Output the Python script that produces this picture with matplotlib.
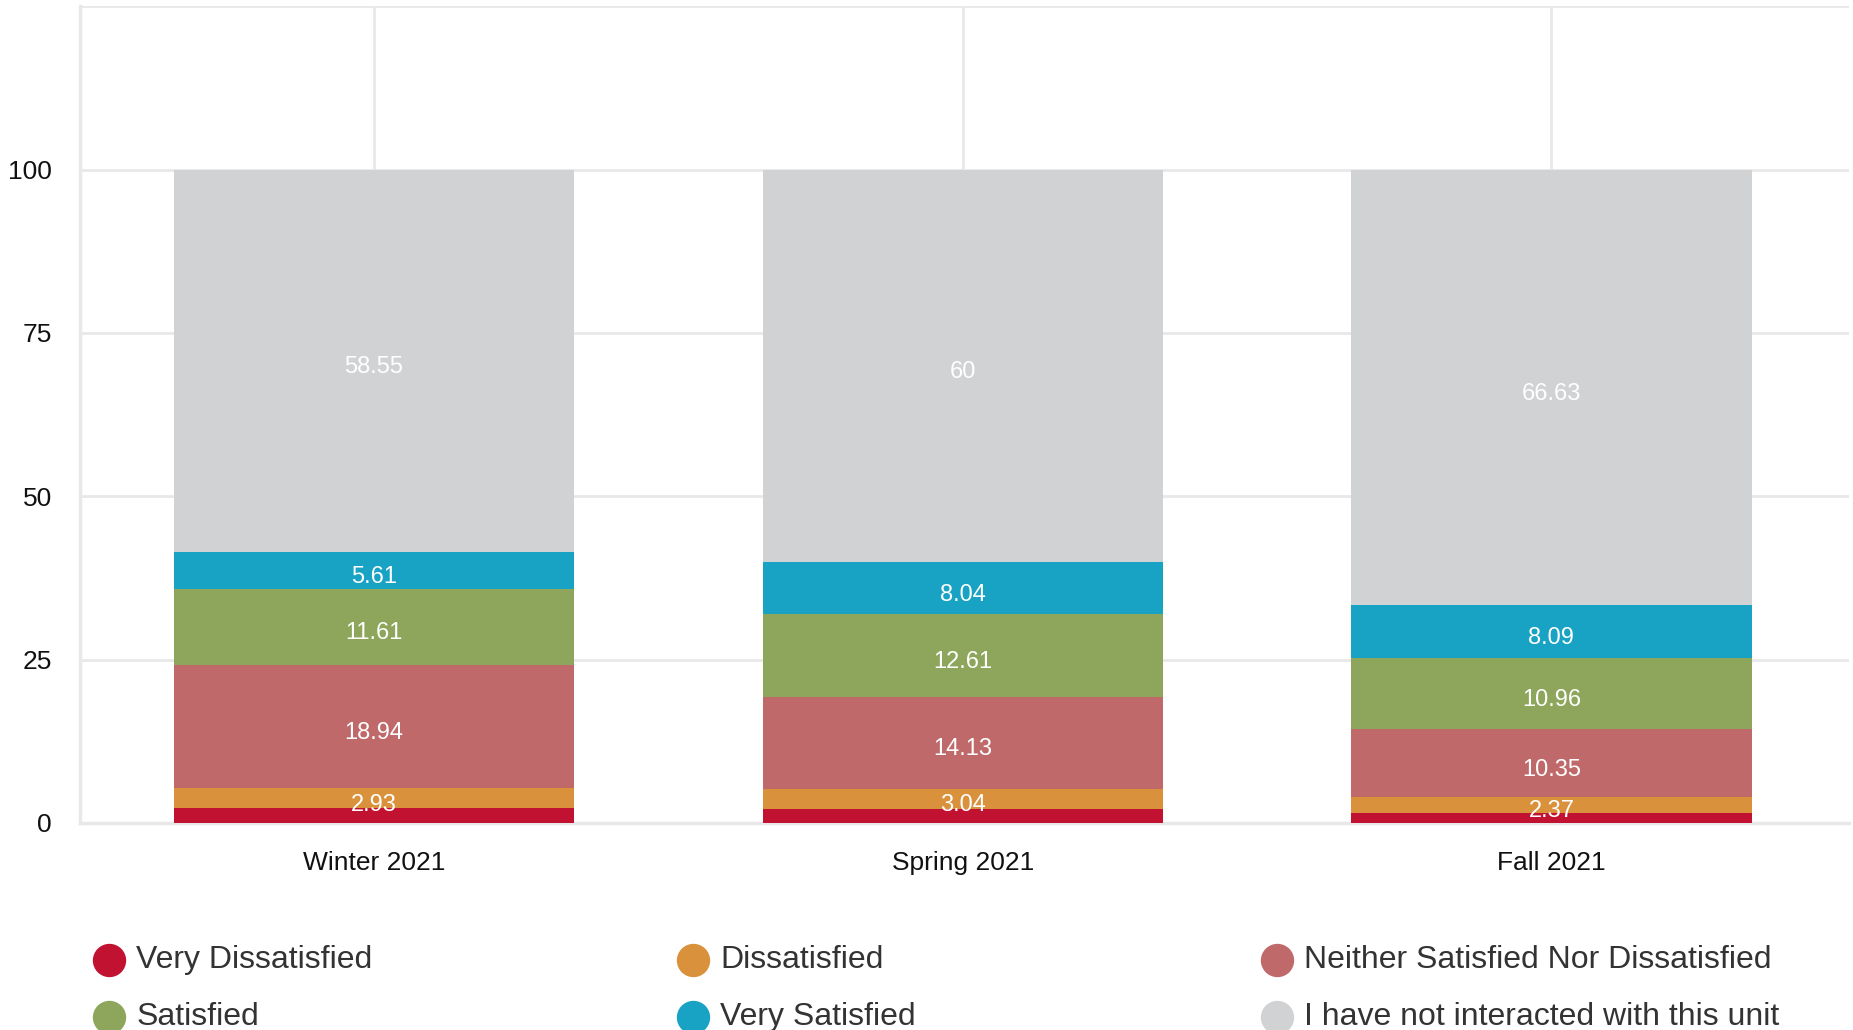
import matplotlib.pyplot as plt
from matplotlib.lines import Line2D
import numpy as np

plt.rcParams['font.family'] = ['Liberation Sans', 'DejaVu Sans']

terms = ['Winter 2021', 'Spring 2021', 'Fall 2021']
series = ['Very Dissatisfied', 'Dissatisfied', 'Neither Satisfied Nor Dissatisfied',
          'Satisfied', 'Very Satisfied', 'I have not interacted with this unit']
colors = ['#C21232', '#D9913C', '#C0696A', '#8DA65B', '#18A2C3', '#D1D2D4']

very_dissatisfied = [2.36, 2.18, 1.60]
dissatisfied = [2.93, 3.04, 2.37]
neither = [18.94, 14.13, 10.35]
satisfied = [11.61, 12.61, 10.96]
very_satisfied = [5.61, 8.04, 8.09]
not_interacted = [58.55, 60, 66.63]

values = [very_dissatisfied, dissatisfied, neither, satisfied, very_satisfied, not_interacted]
show_label = [False, True, True, True, True, True]

fig = plt.figure(figsize=(18.53, 10.30), dpi=100)
ax = fig.add_axes([0.043, 0.201, 0.955, 0.793])

x = np.arange(len(terms))
bottom = np.zeros(len(terms))
for name, vals, col, lab in zip(series, values, colors, show_label):
    vals = np.array(vals)
    ax.bar(x, vals, 0.68, bottom=bottom, color=col, zorder=3, label=name)
    if lab:
        for xi, b, v in zip(x, bottom, vals):
            ax.annotate(f"{v:g}", (xi, b + v / 2), xytext=(0, -3), textcoords='offset points',
                        ha='center', va='center_baseline', color='white', fontsize=17, zorder=4)
    bottom += vals

ax.set_xlim(-0.5, 2.506)
ax.set_ylim(0, 125)
ax.set_yticks([0, 25, 50, 75, 100])
ax.set_xticks(x)
ax.set_xticklabels(terms)
ax.tick_params(length=0, labelsize=19, colors='#111111')
ax.tick_params(axis='y', pad=20)
ax.tick_params(axis='x', pad=20)

# gridlines
for yv in [25, 50, 75, 100, 125]:
    ax.axhline(yv, color='#e8e8e8', lw=2, zorder=1)
for xi in x:
    ax.axvline(xi, color='#e8e8e8', lw=2, zorder=1)
for s in ['top', 'right']:
    ax.spines[s].set_visible(False)
for s in ['left', 'bottom']:
    ax.spines[s].set_color('#e8e8e8')
    ax.spines[s].set_linewidth(2.5)

# legend
col_x = [0.059, 0.374, 0.689]
row_y = [0.068, 0.013]
for i, (name, col) in enumerate(zip(series, colors)):
    cx = col_x[i % 3]
    cy = row_y[i // 3]
    fig.add_artist(Line2D([cx], [cy], marker='o', markersize=23, color=col,
                          linestyle='none', transform=fig.transFigure))
    fig.text(cx + 0.0145, cy, name, ha='left', va='center', fontsize=23, color='#333333')

fig.savefig('out.png', dpi=100)
